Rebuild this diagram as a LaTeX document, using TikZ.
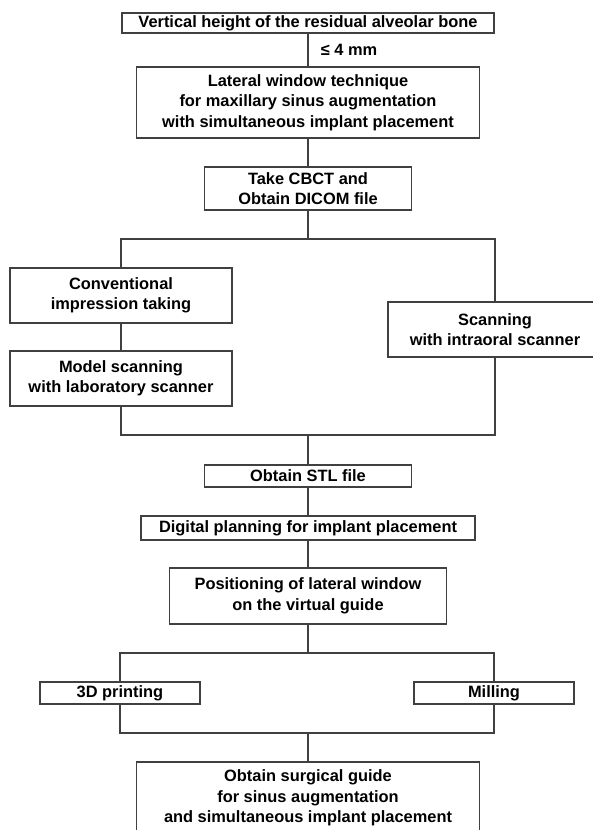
\documentclass[tikz,border=0pt]{standalone}
\usepackage{fontspec}
\setmainfont{Liberation Sans}
\usetikzlibrary{positioning}

\tikzset{
  flowbox/.style={draw=black!75, line width=1.2pt, inner sep=0pt, outer sep=0pt, align=center,
    font=\bfseries\fontsize{16.4}{20.5}\selectfont},
  link/.style={draw=black!75, line width=1.2pt},
  mmlabel/.style={anchor=west, xshift=9pt, font=\bfseries\fontsize{16.4}{20.5}\selectfont}
}

\begin{document}
\begin{tikzpicture}[x=1pt,y=-1pt]
\useasboundingbox (0,0) rectangle (593,830);
\node[flowbox, minimum width=372pt, minimum height=20pt] (height) at (308,23) {Vertical height of the residual alveolar bone};
\node[flowbox, minimum width=343pt, minimum height=71pt, below=34pt of height] (lateral) {Lateral window technique\\for maxillary sinus augmentation\\with simultaneous implant placement};
\node[flowbox, minimum width=207pt, minimum height=43pt, below=29pt of lateral] (cbct) {Take CBCT and\\Obtain DICOM file};
\coordinate[below=29pt of cbct] (split);
\coordinate[left=187pt of split] (splitL);
\coordinate[right=187pt of split] (splitR);
\node[flowbox, minimum width=222pt, minimum height=55pt, below=29pt of splitL] (conv) {Conventional\\impression taking};
\node[flowbox, minimum width=222pt, minimum height=55pt, below=28pt of conv] (model) {Model scanning\\with laboratory scanner};
\node[flowbox, minimum width=214pt, minimum height=55pt, below=63pt of splitR] (intra) {Scanning\\with intraoral scanner};
\coordinate[below=29pt of model] (joinL);
\coordinate (joinR) at (splitR |- joinL);
\coordinate (join) at (split |- joinL);
\node[flowbox, minimum width=207pt, minimum height=22pt, below=30pt of join] (stl) {Obtain STL file};
\node[flowbox, minimum width=334pt, minimum height=24pt, below=29pt of stl] (digital) {Digital planning for implant placement};
\node[flowbox, minimum width=277pt, minimum height=56pt, below=28pt of digital] (window) {Positioning of lateral window\\on the virtual guide};
\coordinate[below=29pt of window] (fork);
\coordinate[left=188pt of fork] (forkL);
\coordinate[right=186pt of fork] (forkR);
\node[flowbox, minimum width=160pt, minimum height=22pt, below=29pt of forkL] (print) {3D printing};
\node[flowbox, minimum width=160pt, minimum height=22pt, below=29pt of forkR] (mill) {Milling};
\coordinate[below=29pt of print] (mergeL);
\coordinate (mergeR) at (forkR |- mergeL);
\coordinate (merge) at (fork |- mergeL);
\node[flowbox, minimum width=343pt, minimum height=72pt, below=29pt of merge] (guide) {Obtain surgical guide\\for sinus augmentation\\and simultaneous implant placement};

\draw[link] (height) -- node[mmlabel]{≤ 4 mm} (lateral);
\draw[link] (lateral) -- (cbct);
\draw[link] (cbct) -- (split);
\draw[link] (conv) -- (splitL) -- (splitR) -- (intra);
\draw[link] (conv) -- (model);
\draw[link] (model) -- (joinL) -- (joinR) -- (intra);
\draw[link] (join) -- (stl);
\draw[link] (stl) -- (digital);
\draw[link] (digital) -- (window);
\draw[link] (window) -- (fork);
\draw[link] (print) -- (forkL) -- (forkR) -- (mill);
\draw[link] (print) -- (mergeL) -- (mergeR) -- (mill);
\draw[link] (merge) -- (guide);
\end{tikzpicture}
\end{document}
